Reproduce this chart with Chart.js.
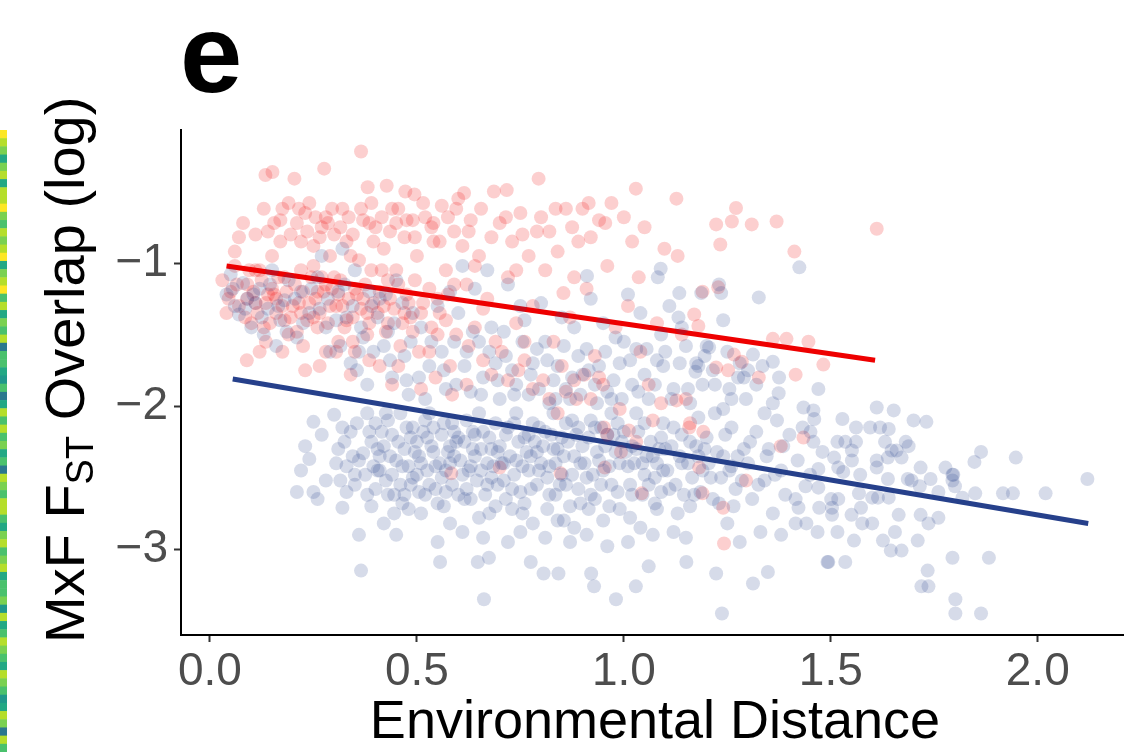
<!DOCTYPE html>
<html>
<head>
<meta charset="utf-8">
<script src="https://cdn.jsdelivr.net/npm/chart.js@4.4.1/dist/chart.umd.min.js"></script>
<style>
  body { margin: 0; background: #fff; }
  #chart { display: block; }
</style>
</head>
<body>
<canvas id="chart" width="1130" height="752"></canvas>
<script>
// Axis ticks
const xTicks = [0, 0.5, 1.0, 1.5, 2.0];
const yTicks = [-3, -2, -1];

// Blue group
const bluePoints = [
  [0.04,-1.22],[0.06,-1.30],[0.08,-1.14],[0.07,-1.36],[0.09,-1.25],[0.05,-1.08],[0.10,-1.45],
  [0.12,-1.18],[0.14,-1.32],[0.15,-1.05],[0.17,-1.40],[0.18,-1.26],[0.13,-1.50],[0.19,-1.12],[0.16,-1.58],[0.11,-1.28],
  [0.21,-2.60],[0.25,-2.60],[0.23,-2.28],[0.25,-2.11],[0.26,-2.65],[0.22,-2.45],[0.24,-2.37],[0.27,-2.20],[0.28,-2.52],
  [0.22,-1.20],[0.24,-1.35],[0.26,-1.10],[0.28,-1.45],[0.29,-1.62],[0.21,-1.52],[0.27,-0.95],
  [0.30,-2.06],[0.32,-2.71],[0.31,-2.30],[0.33,-2.42],[0.34,-2.18],[0.35,-2.55],[0.36,-2.90],[0.365,-3.15],[0.37,-2.33],
  [0.38,-2.62],[0.39,-2.25],[0.35,-2.48],[0.32,-2.15],[0.38,-2.05],[0.36,-2.38],[0.39,-2.70],[0.33,-2.60],
  [0.31,-1.20],[0.33,-1.38],[0.35,-1.05],[0.37,-1.52],[0.39,-1.30],[0.34,-1.70],[0.38,-1.85],[0.36,-1.62],[0.32,-0.90],
  [0.40,-2.12],[0.41,-2.45],[0.42,-2.28],[0.43,-2.62],[0.44,-2.20],[0.45,-2.38],[0.46,-2.55],[0.47,-2.30],[0.48,-2.72],
  [0.49,-2.15],[0.42,-2.82],[0.44,-2.48],[0.46,-2.05],[0.48,-2.42],[0.41,-2.35],[0.47,-2.62],[0.45,-2.90],[0.43,-2.10],
  [0.49,-2.50],[0.40,-2.58],
  [0.41,-1.25],[0.43,-1.48],[0.45,-1.12],[0.47,-1.65],[0.49,-1.35],[0.44,-1.80],[0.48,-1.92],[0.42,-1.58],
  [0.50,-2.25],[0.51,-2.40],[0.52,-2.10],[0.53,-2.55],[0.54,-2.32],[0.55,-2.68],[0.56,-2.20],[0.57,-2.45],[0.58,-2.82],
  [0.59,-2.35],[0.52,-2.62],[0.54,-2.15],[0.56,-2.50],[0.58,-2.28],[0.556,-3.09],[0.51,-2.75],[0.53,-2.05],[0.57,-2.60],
  [0.59,-2.18],[0.55,-2.95],[0.50,-2.48],[0.58,-2.40],
  [0.51,-1.45],[0.53,-1.72],[0.55,-1.30],[0.57,-1.88],[0.59,-1.55],[0.52,-1.95],[0.56,-1.62],[0.58,-1.20],
  [0.60,-2.22],[0.61,-2.48],[0.62,-2.10],[0.63,-2.65],[0.64,-2.35],[0.65,-2.78],[0.66,-2.18],[0.67,-2.55],[0.68,-2.30],
  [0.69,-2.70],[0.647,-3.09],[0.674,-3.06],[0.662,-3.35],[0.61,-2.88],[0.63,-2.42],[0.65,-2.05],[0.67,-2.40],[0.69,-2.12],
  [0.62,-2.58],[0.66,-2.92],[0.68,-2.50],[0.64,-2.20],[0.60,-2.62],
  [0.60,-1.35],[0.62,-1.62],[0.64,-1.18],[0.66,-1.80],[0.68,-1.45],[0.70,-1.95],[0.63,-1.90],[0.65,-1.55],[0.67,-1.05],
  [0.69,-1.70],[0.61,-1.02],
  [0.70,-2.28],[0.71,-2.52],[0.72,-2.15],[0.73,-2.72],[0.74,-2.38],[0.75,-2.60],[0.76,-2.22],[0.77,-2.45],[0.775,-3.09],
  [0.78,-2.82],[0.79,-2.32],[0.72,-2.95],[0.74,-2.05],[0.76,-2.68],[0.78,-2.12],[0.71,-2.40],[0.73,-2.58],[0.75,-2.88],
  [0.77,-2.20],[0.79,-2.55],
  [0.71,-1.48],[0.73,-1.75],[0.75,-1.30],[0.77,-1.92],[0.79,-1.60],[0.72,-1.15],[0.74,-1.85],[0.76,-1.40],[0.78,-1.70],[0.80,-1.28],
  [0.80,-2.40],[0.806,-3.17],[0.81,-2.18],[0.82,-2.62],[0.83,-2.30],[0.84,-2.80],[0.842,-3.17],[0.85,-2.48],[0.86,-2.12],
  [0.87,-2.70],[0.88,-2.35],[0.89,-2.58],[0.81,-2.92],[0.83,-2.05],[0.85,-2.22],[0.87,-2.95],[0.89,-2.15],[0.82,-2.42],
  [0.86,-2.55],[0.88,-2.85],[0.84,-2.30],
  [0.81,-1.55],[0.83,-1.82],[0.85,-1.38],[0.87,-1.95],[0.89,-1.65],[0.82,-1.98],[0.84,-1.72],[0.86,-1.88],[0.88,-1.45],[0.90,-1.78],
  [0.90,-2.28],[0.91,-2.50],[0.92,-2.10],[0.921,-3.17],[0.928,-3.26],[0.93,-2.65],[0.94,-2.38],[0.95,-2.80],[0.96,-2.20],
  [0.97,-2.55],[0.98,-2.32],[0.981,-3.35],[0.99,-2.72],[0.91,-2.90],[0.93,-2.15],[0.95,-2.45],[0.97,-2.05],[0.99,-2.40],
  [0.92,-2.62],[0.96,-2.98],
  [0.91,-1.60],[0.93,-1.85],[0.95,-1.42],[0.97,-1.95],[0.99,-1.70],[0.92,-1.25],[0.94,-1.72],[0.96,-1.90],[0.98,-1.52],[0.911,-1.09],
  [1.00,-2.18],[1.01,-2.42],[1.02,-2.62],[1.029,-3.26],[1.03,-2.30],[1.04,-2.85],[1.05,-2.12],[1.06,-2.55],[1.06,-3.12],
  [1.07,-2.35],[1.08,-2.72],[1.09,-2.22],[1.01,-2.95],[1.03,-2.05],[1.05,-2.48],[1.07,-2.90],[1.09,-2.60],[1.02,-2.28],[1.08,-2.40],
  [1.00,-1.55],[1.02,-1.85],[1.04,-1.35],[1.06,-1.95],[1.08,-1.68],[1.01,-1.22],[1.05,-1.78],[1.09,-1.50],[1.03,-1.60],
  [1.089,-1.04],[1.082,-1.10],
  [1.10,-2.30],[1.11,-2.58],[1.12,-2.15],[1.13,-2.75],[1.14,-2.40],[1.15,-2.92],[1.151,-3.09],[1.16,-2.25],[1.17,-2.62],
  [1.18,-2.08],[1.19,-2.45],[1.12,-2.88],[1.14,-2.20],[1.16,-2.70],[1.18,-2.35],
  [1.10,-1.62],[1.12,-1.88],[1.14,-1.45],[1.16,-1.98],[1.18,-1.72],[1.11,-1.30],[1.15,-1.58],[1.19,-1.85],
  [1.134,-1.21],[1.187,-1.21],[1.132,-1.38],[1.175,-1.70],[1.173,-1.76],
  [1.20,-2.22],[1.21,-2.50],[1.223,-3.17],[1.23,-2.68],[1.237,-3.45],[1.24,-2.35],[1.25,-2.82],[1.26,-2.15],[1.27,-2.58],
  [1.28,-2.95],[1.29,-2.30],[1.22,-2.05],[1.26,-2.42],[1.24,-2.02],
  [1.20,-1.58],[1.22,-1.85],[1.24,-1.40],[1.26,-1.95],[1.28,-1.70],[1.25,-1.62],[1.29,-1.80],
  [1.23,-1.15],[1.235,-1.21],[1.206,-1.59],[1.276,-1.80],
  [1.30,-2.40],[1.31,-2.65],[1.312,-3.24],[1.32,-2.18],[1.33,-2.88],[1.34,-2.52],[1.348,-3.16],[1.35,-2.30],[1.36,-2.75],
  [1.37,-2.10],[1.374,-1.91],[1.38,-2.45],[1.39,-2.62],[1.32,-1.85],[1.36,-1.98],[1.34,-2.05],[1.30,-1.75],[1.38,-2.90],
  [1.326,-1.24],[1.312,-1.64],[1.36,-1.69],[1.424,-1.03],
  [1.40,-2.20],[1.415,-2.82],[1.415,-2.65],[1.422,-2.71],[1.432,-2.15],[1.434,-2.01],[1.441,-2.82],[1.451,-2.18],[1.458,-2.25],
  [1.458,-2.03],[1.46,-2.09],[1.468,-2.88],[1.47,-1.88],[1.47,-2.44],[1.47,-2.57],[1.472,-2.71],[1.439,-2.56],[1.492,-3.09],
  [1.494,-3.09],[1.42,-2.38],[1.45,-2.48],[1.48,-2.32],
  [1.501,-2.65],[1.503,-2.71],[1.503,-2.76],[1.508,-2.36],[1.516,-2.88],[1.516,-2.25],[1.518,-2.43],[1.518,-2.65],[1.528,-2.09],
  [1.530,-2.46],[1.535,-3.09],[1.535,-2.25],[1.550,-2.76],[1.551,-2.38],[1.551,-2.31],[1.556,-2.94],[1.561,-2.15],[1.561,-2.25],
  [1.568,-2.61],[1.571,-2.48],[1.573,-2.71],[1.576,-2.82],[1.595,-2.15],[1.600,-2.82],[1.600,-2.64],[1.611,-2.01],[1.611,-2.43],
  [1.611,-2.38],[1.614,-2.64],[1.619,-2.15],[1.626,-2.94],[1.631,-2.25],[1.638,-2.36],[1.638,-2.51],[1.640,-2.16],[1.640,-2.64],
  [1.645,-3.01],[1.647,-2.31],[1.652,-2.03],[1.655,-2.88],[1.659,-2.31],[1.664,-2.76],[1.671,-3.01],[1.671,-2.36],[1.681,-2.25],
  [1.686,-2.51],[1.688,-2.28],[1.695,-2.52],[1.700,-2.10],[1.710,-2.94],[1.715,-2.56],[1.717,-2.43],[1.717,-2.76],[1.719,-3.26],
  [1.731,-2.11],[1.734,-3.15],[1.736,-2.82],[1.736,-3.26],[1.741,-2.51],[1.760,-2.60],[1.760,-2.78],[1.777,-2.43],[1.794,-2.48],
  [1.794,-2.52],[1.794,-3.06],[1.796,-2.48],[1.800,-2.56],[1.801,-3.35],[1.801,-3.45],[1.818,-2.64],[1.847,-2.39],[1.849,-2.61],
  [1.863,-2.32],[1.863,-3.45],[1.882,-3.06],[1.916,-2.61],[1.940,-2.61],[1.947,-2.36],[2.019,-2.61],[2.120,-2.51],
  // dense core
  [0.305,-2.40],[0.315,-2.52],[0.325,-2.25],[0.345,-2.35],[0.355,-2.12],[0.375,-2.48],[0.385,-2.18],[0.395,-2.42],
  [0.405,-2.30],[0.415,-2.18],[0.425,-2.52],[0.435,-2.35],[0.445,-2.62],[0.455,-2.25],[0.465,-2.42],[0.475,-2.15],
  [0.485,-2.55],[0.495,-2.32],[0.405,-2.45],[0.425,-2.05],[0.445,-2.75],[0.465,-2.68],[0.485,-2.22],
  [0.505,-2.35],[0.515,-2.18],[0.525,-2.45],[0.535,-2.28],[0.545,-2.58],[0.555,-2.40],[0.565,-2.12],[0.575,-2.32],
  [0.585,-2.55],[0.595,-2.25],[0.505,-2.60],[0.525,-2.22],[0.545,-2.42],[0.565,-2.70],[0.585,-2.12],
  [0.605,-2.38],[0.615,-2.25],[0.625,-2.45],[0.635,-2.18],[0.645,-2.52],[0.655,-2.30],[0.665,-2.62],[0.675,-2.22],
  [0.685,-2.42],[0.695,-2.32],[0.615,-2.65],[0.635,-2.30],[0.655,-2.45],[0.675,-2.75],[0.695,-2.55],
  [0.705,-2.40],[0.715,-2.20],[0.725,-2.35],[0.735,-2.48],[0.745,-2.25],[0.755,-2.42],[0.765,-2.32],[0.775,-2.58],
  [0.785,-2.25],[0.795,-2.45],[0.715,-2.65],[0.735,-2.12],[0.755,-2.75],[0.775,-2.35],[0.795,-2.15],
  [0.805,-2.28],[0.815,-2.50],[0.825,-2.20],[0.835,-2.40],[0.845,-2.55],[0.855,-2.35],[0.865,-2.25],[0.875,-2.48],
  [0.885,-2.20],[0.895,-2.40],[0.815,-2.72],[0.835,-2.62],[0.855,-2.80],[0.875,-2.10],[0.895,-2.68],
  [0.905,-2.40],[0.915,-2.22],[0.925,-2.48],[0.935,-2.32],[0.945,-2.55],[0.955,-2.28],[0.965,-2.42],[0.975,-2.20],
  [0.985,-2.60],[0.995,-2.25],[0.915,-2.72],[0.945,-2.15],[0.965,-2.70],[0.985,-2.12],
  [1.005,-2.32],[1.015,-2.55],[1.025,-2.40],[1.035,-2.18],[1.045,-2.62],[1.055,-2.35],[1.065,-2.25],[1.075,-2.50],
  [1.085,-2.30],[1.095,-2.45],[1.015,-2.78],[1.045,-2.40],[1.075,-2.68],[1.095,-2.12],
  [1.105,-2.45],[1.115,-2.28],[1.125,-2.55],[1.135,-2.35],[1.145,-2.62],[1.155,-2.40],[1.165,-2.50],[1.175,-2.28],
  [1.185,-2.60],[1.195,-2.30],[1.205,-2.40],[1.215,-2.65],[1.225,-2.32],[1.235,-2.50],[1.245,-2.20],[1.255,-2.45],
  [1.265,-2.70],[1.275,-2.35],[1.285,-2.52],[1.305,-2.25],[1.325,-2.55],[1.345,-2.35],[1.365,-2.48],[1.385,-2.28],
  // band between the lines
  [0.505,-1.80],[0.535,-1.55],[0.565,-1.75],[0.595,-1.85],[0.615,-1.72],[0.635,-1.48],[0.655,-1.92],[0.675,-1.62],
  [0.695,-1.82],[0.715,-1.65],[0.735,-1.92],[0.755,-1.55],[0.775,-1.78],[0.795,-1.88],[0.815,-1.68],[0.835,-1.95],
  [0.855,-1.58],[0.875,-1.80],[0.895,-1.92],[0.915,-1.75],[0.935,-1.98],[0.955,-1.62],[0.975,-1.82],[0.995,-1.95],
  [1.015,-1.68],[1.035,-1.90],[1.055,-1.60],[1.075,-1.85],[1.095,-1.72],[1.115,-1.95],[1.135,-1.70],[1.155,-1.88],
  [1.195,-1.65],[1.215,-1.75],[1.255,-1.88],[1.295,-1.95],[1.335,-1.72],[1.375,-1.80],
  // mixed with the red cluster
  [0.055,-1.18],[0.085,-1.32],[0.105,-1.22],[0.125,-1.38],[0.145,-1.15],[0.165,-1.30],[0.185,-1.48],[0.205,-1.25],
  [0.225,-1.42],[0.245,-1.18],[0.265,-1.32],[0.285,-1.25],[0.305,-1.40],[0.325,-1.15],[0.345,-1.30],[0.365,-1.45],
  [0.385,-1.20],[0.405,-1.38],[0.425,-1.22],[0.445,-1.42],[0.465,-1.28],[0.485,-1.55],[0.315,-1.58],[0.355,-1.75],
  [0.395,-1.62],[0.435,-1.68],[0.475,-1.82]
];

// Red group
const redPoints = [
  [0.03,-1.12],[0.05,-1.20],[0.06,-1.02],[0.07,-1.30],[0.08,-0.72],[0.09,-1.15],[0.04,-1.35],[0.10,-1.42],[0.06,-0.92],
  [0.09,-1.25],[0.089,-1.68],[0.07,-0.82],
  [0.11,-0.80],[0.12,-1.05],[0.13,-0.62],[0.134,-0.385],[0.151,-0.364],[0.14,-1.22],[0.15,-0.95],[0.16,-1.35],[0.17,-0.70],
  [0.18,-1.10],[0.19,-1.50],[0.11,-1.28],[0.13,-1.45],[0.15,-1.18],[0.17,-0.85],[0.19,-0.58],[0.12,-1.62],[0.16,-1.25],
  [0.18,-1.40],[0.14,-0.78],[0.11,-1.05],[0.20,-1.30],
  [0.204,-0.41],[0.21,-0.72],[0.22,-1.05],[0.23,-0.65],[0.24,-1.28],[0.25,-0.88],[0.26,-1.45],[0.27,-0.75],[0.28,-1.15],
  [0.29,-0.95],[0.276,-0.34],[0.22,-1.35],[0.24,-0.58],[0.26,-1.20],[0.28,-1.62],[0.21,-1.48],[0.23,-1.75],[0.25,-1.38],
  [0.27,-1.10],[0.29,-1.30],[0.22,-0.85],[0.28,-0.68],[0.25,-1.02],
  [0.30,-0.80],[0.31,-1.22],[0.32,-0.62],[0.33,-1.40],[0.34,-0.95],[0.35,-1.18],[0.365,-0.22],[0.37,-0.70],[0.38,-1.35],
  [0.381,-0.47],[0.39,-1.05],[0.31,-1.55],[0.33,-0.85],[0.35,-1.62],[0.37,-1.25],[0.39,-0.58],[0.32,-1.30],[0.34,-1.78],
  [0.36,-0.98],[0.38,-1.50],[0.30,-1.10],
  [0.40,-0.75],[0.41,-1.20],[0.42,-0.90],[0.427,-0.46],[0.43,-1.42],[0.44,-0.62],[0.45,-1.05],[0.46,-1.58],[0.47,-0.82],
  [0.472,-0.50],[0.48,-1.28],[0.49,-0.70],[0.494,-0.52],[0.41,-1.72],[0.43,-1.12],[0.45,-0.72],[0.47,-1.35],[0.49,-1.48],
  [0.44,-1.85],[0.42,-1.30],
  [0.50,-0.95],[0.51,-1.35],[0.52,-0.68],[0.53,-1.18],[0.54,-0.85],[0.55,-1.50],[0.56,-0.60],[0.57,-1.05],[0.58,-1.72],
  [0.59,-0.78],[0.51,-1.88],[0.53,-1.62],[0.55,-1.25],[0.57,-1.40],[0.59,-1.15],[0.54,-0.72],
  [0.60,-0.55],[0.61,-0.88],[0.614,-0.51],[0.62,-1.15],[0.63,-0.70],[0.64,-1.45],[0.65,-0.95],[0.66,-1.68],[0.67,-1.25],
  [0.68,-0.82],[0.686,-0.50],[0.69,-1.55],[0.62,-1.85],[0.64,-1.02],[0.66,-1.32],[0.68,-1.78],[0.583,-2.47],[0.70,-2.43],
  [0.70,-0.72],[0.717,-0.49],[0.72,-1.10],[0.73,-0.85],[0.74,-1.42],[0.75,-0.65],[0.76,-1.68],[0.77,-0.95],[0.78,-1.30],
  [0.79,-0.78],[0.794,-0.41],[0.72,-1.82],[0.76,-1.55],[0.78,-1.88],[0.74,-1.05],
  [0.80,-0.68],[0.81,-1.05],[0.82,-0.78],[0.83,-1.55],[0.84,-0.92],[0.85,-1.72],[0.854,-1.21],[0.86,-0.62],[0.87,-1.38],
  [0.88,-1.82],[0.89,-0.85],[0.82,-1.95],[0.86,-1.90],[0.88,-1.10],[0.84,-2.05],[0.847,-2.47],
  [0.90,-0.62],[0.91,-1.18],[0.92,-0.82],[0.93,-1.65],[0.94,-0.70],[0.95,-1.85],[0.96,-1.02],[0.97,-0.58],[0.98,-1.45],
  [0.99,-2.02],[0.92,-1.95],[0.96,-2.20],[0.94,-1.80],[0.952,-2.15],[0.993,-2.32],[0.954,-2.43],
  [1.00,-0.68],[1.01,-1.30],[1.02,-0.85],[1.029,-0.48],[1.036,-1.10],[1.04,-1.62],[1.05,-0.75],[1.06,-1.85],[1.07,-2.10],
  [1.08,-1.42],[1.098,-0.90],[1.03,-2.25],[1.09,-1.98],[1.012,-2.17],[1.043,-2.61],
  [1.127,-0.55],[1.13,-0.95],[1.14,-1.50],[1.15,-1.95],[1.17,-1.36],[1.18,-1.44],[1.16,-2.12],[1.19,-1.20],[1.127,-1.96],
  [1.158,-2.15],[1.192,-2.18],[1.182,-2.43],[1.19,-2.61],
  [1.223,-0.73],[1.228,-1.17],[1.233,-0.87],[1.223,-1.73],[1.252,-1.75],[1.261,-0.71],[1.266,-1.64],[1.271,-0.615],
  [1.285,-1.69],[1.242,-2.96],[1.24,-2.71],[1.295,-2.52],
  [1.309,-0.73],[1.326,-1.80],[1.36,-1.53],[1.369,-0.71],[1.393,-1.53],[1.412,-0.92],[1.415,-1.78],[1.446,-1.55],
  [1.482,-1.71],[1.611,-0.76],[1.379,-2.28],[1.434,-2.22],
  // dense cluster near the left
  [0.045,-1.25],[0.065,-1.15],[0.085,-1.38],[0.095,-1.05],[0.105,-1.20],[0.115,-1.35],[0.125,-1.12],[0.135,-1.28],
  [0.145,-1.42],[0.155,-1.22],[0.165,-1.10],[0.175,-1.30],[0.185,-1.20],[0.195,-1.38],[0.205,-1.15],[0.215,-1.28],
  [0.225,-1.20],[0.235,-1.40],[0.245,-1.10],[0.255,-1.25],[0.265,-1.35],[0.275,-1.20],[0.285,-1.42],[0.295,-1.18],
  [0.305,-1.30],[0.315,-1.12],[0.325,-1.45],[0.335,-1.25],[0.345,-1.38],[0.355,-1.22],[0.365,-1.32],[0.375,-1.15],
  [0.385,-1.42],[0.395,-1.28],[0.405,-1.35],[0.415,-1.05],[0.425,-1.48],[0.435,-1.25],[0.445,-1.32],[0.455,-1.15],
  [0.465,-1.42],[0.475,-1.22],[0.485,-1.38],[0.495,-1.12],[0.515,-1.28],[0.535,-1.45],[0.555,-1.35],[0.575,-1.22],
  [0.595,-1.50],
  // upper band
  [0.155,-0.72],[0.175,-0.62],[0.195,-0.80],[0.215,-0.62],[0.235,-0.78],[0.255,-0.68],[0.265,-0.82],[0.285,-0.72],
  [0.295,-0.62],[0.315,-0.75],[0.335,-0.68],[0.345,-0.80],[0.365,-0.62],[0.385,-0.72],[0.395,-0.85],[0.415,-0.68],
  [0.435,-0.78],[0.455,-0.62],[0.475,-0.70],[0.495,-0.82],[0.515,-0.58],[0.535,-0.75],[0.555,-0.85],[0.575,-0.68],
  [0.595,-0.62],[0.625,-0.78],[0.655,-0.62],[0.715,-0.68],[0.755,-0.80],[0.835,-0.62],[0.875,-0.75],[0.915,-0.58],
  [0.955,-0.72],
  // lower edge of the red cloud
  [0.135,-1.55],[0.175,-1.62],[0.225,-1.58],[0.265,-1.72],[0.305,-1.62],[0.345,-1.55],[0.385,-1.68],[0.455,-1.72],
  [0.505,-1.62],[0.545,-1.80],[0.585,-1.92],[0.625,-1.58],[0.705,-1.62],[0.745,-1.75],[0.805,-1.82],[0.885,-1.95],
  [0.905,-1.78]
];

// Fitted lines (end points)
const blueLine = [[0.055,-1.81],[2.122,-2.82]];
const redLine = [[0.04,-1.02],[1.607,-1.68]];

// Strip of heatmap cells cut off at the left edge (Y yellow, L lime, G green, M mid, T teal, C cyan, D dark)
const stripCells = 'YLGTGLTLLYGMLGLYTGLYMLTGMLDMMTCMDTLMLMGTMDLGMLLMTGLMGLTMMGCLTMLGMTLGMCTLGDLM';
const stripColors = { Y: '#fde725', L: '#b5de2b', G: '#7ad151', M: '#4ac16d', T: '#22a884', C: '#1f988b', D: '#2a788e' };

const BLUE = '#26408b';
const RED = '#ee0000';
const FONT = '"Liberation Sans", Arial, Helvetica, sans-serif';

function toXY(list) {
  return list.map(p => ({ x: p[0], y: p[1] }));
}

// Texts and the cut-off strip drawn on top of the chart
const decorations = {
  id: 'decorations',
  afterDraw(chart) {
    const ctx = chart.ctx;
    ctx.save();

    // heatmap strip on the far left
    const cellH = (752 - 130) / stripCells.length;
    for (let i = 0; i < stripCells.length; i++) {
      ctx.fillStyle = stripColors[stripCells[i]];
      ctx.fillRect(0, 130 + i * cellH, 7, cellH + 0.5);
    }

    // panel letter
    ctx.fillStyle = '#000';
    ctx.font = 'bold 112px ' + FONT;
    ctx.textAlign = 'left';
    ctx.textBaseline = 'alphabetic';
    ctx.fillText('e', 180, 92);

    // x title
    ctx.font = '54px ' + FONT;
    ctx.textAlign = 'center';
    ctx.fillText('Environmental Distance', 655, 738);

    // y title with subscript
    ctx.translate(84, 643);
    ctx.rotate(-Math.PI / 2);
    ctx.textAlign = 'left';
    const big = '56px ' + FONT;
    const small = '38px ' + FONT;
    let x = 0;
    ctx.font = big;
    ctx.fillText('MxF F', x, 0);
    x += ctx.measureText('MxF F').width;
    ctx.font = small;
    ctx.fillText('ST', x, 9);
    x += ctx.measureText('ST').width;
    ctx.font = big;
    ctx.fillText(' Overlap (log)', x, 0);

    ctx.restore();
  }
};

const ctx = document.getElementById('chart').getContext('2d');
new Chart(ctx, {
  type: 'scatter',
  data: {
    datasets: [
      {
        label: 'blue',
        data: toXY(bluePoints),
        backgroundColor: 'rgba(38,64,139,0.19)',
        borderWidth: 0,
        pointRadius: 7
      },
      {
        label: 'red',
        data: toXY(redPoints),
        backgroundColor: 'rgba(238,0,0,0.19)',
        borderWidth: 0,
        pointRadius: 7
      },
      {
        type: 'line',
        label: 'red fit',
        data: toXY(redLine),
        borderColor: RED,
        borderWidth: 5,
        pointRadius: 0,
        fill: false
      },
      {
        type: 'line',
        label: 'blue fit',
        data: toXY(blueLine),
        borderColor: BLUE,
        borderWidth: 5,
        pointRadius: 0,
        fill: false
      }
    ]
  },
  options: {
    responsive: false,
    animation: false,
    layout: { padding: { top: 130, left: 0, right: 0, bottom: 0 } },
    plugins: {
      legend: { display: false },
      tooltip: { enabled: false }
    },
    scales: {
      x: {
        type: 'linear',
        min: -0.07,
        max: 2.206,
        afterFit: s => { s.height = 117; },
        afterBuildTicks: s => { s.ticks = xTicks.map(v => ({ value: v })); },
        border: { display: true, color: '#000', width: 2 },
        grid: { display: true, drawOnChartArea: false, drawTicks: true, tickLength: 7, tickColor: '#333', tickWidth: 2 },
        ticks: {
          color: '#4d4d4d',
          font: { family: FONT, size: 46 },
          padding: 3,
          maxRotation: 0,
          callback: v => v.toFixed(1)
        }
      },
      y: {
        type: 'linear',
        min: -3.6,
        max: -0.07,
        afterFit: s => { s.width = 181; },
        afterBuildTicks: s => { s.ticks = yTicks.map(v => ({ value: v })); },
        border: { display: true, color: '#000', width: 2 },
        grid: { display: true, drawOnChartArea: false, drawTicks: true, tickLength: 7, tickColor: '#333', tickWidth: 2 },
        ticks: {
          color: '#4d4d4d',
          font: { family: FONT, size: 46 },
          padding: 6,
          callback: v => '\u2212' + Math.abs(v)
        }
      }
    }
  },
  plugins: [decorations]
});
</script>
</body>
</html>
